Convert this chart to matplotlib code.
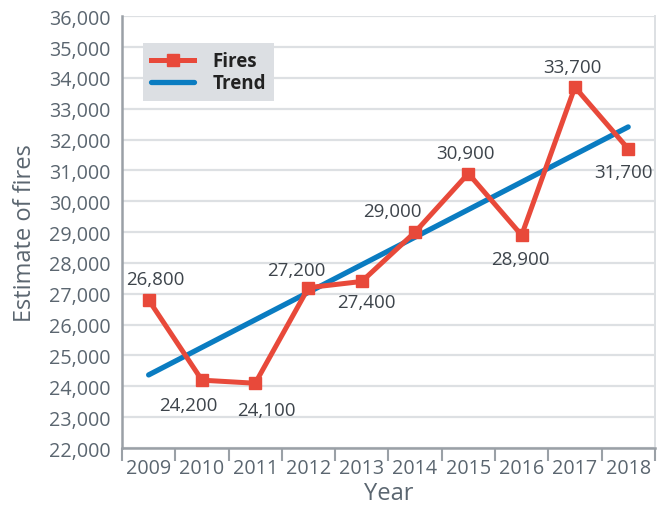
import numpy as np
import matplotlib
matplotlib.use("Agg")
import matplotlib.pyplot as plt
from matplotlib.ticker import FuncFormatter

plt.rcParams['font.family'] = ['Open Sans', 'DejaVu Sans']

# data
years = ["2009", "2010", "2011", "2012", "2013", "2014", "2015", "2016", "2017", "2018"]
fires = [26800, 24200, 24100, 27200, 27400, 29000, 30900, 28900, 33700, 31700]
trend_ends = [24370, 32410]   # trend line at 2009 and 2018

# label offsets (points) for each data label
label_offsets = [(5, 15), (-10, -18), (8, -19), (-9, 13), (3.5, -15),
                 (-16, 15), (-2, 15), (-1, -17), (-1.5, 14.5), (-3.5, -17)]

red = "#e8493a"
blue = "#0a7cc1"
text_col = "#5b6670"
grid_col = "#dde0e3"

fig = plt.figure(figsize=(6.57, 5.06), dpi=100)
ax = fig.add_axes([0.1857, 0.1126, 0.811, 0.8534])

x = np.arange(len(years))
ax.plot([x[0], x[-1]], trend_ends, color=blue, lw=3.8, solid_capstyle="round",
        label="Trend", zorder=3)
ax.plot(x, fires, color=red, lw=3.6, marker="s", markersize=9, label="Fires", zorder=4)

for xi, v, off in zip(x, fires, label_offsets):
    ax.annotate(f"{v:,}", (xi, v), xytext=off, textcoords="offset points",
                ha="center", va="center", fontsize=13.5, color="#3d444b")

ax.set_xlim(-0.5, len(years) - 0.5)
ax.set_ylim(22000, 36000)
ax.set_yticks(np.arange(22000, 36001, 1000))
ax.yaxis.set_major_formatter(FuncFormatter(lambda v, p: f"{int(v):,}"))
ax.set_xticks(x)
ax.set_xticklabels(years)
ax.set_xticks(np.arange(-0.5, len(years)), minor=True)

ax.tick_params(axis="y", length=0, pad=8, labelsize=14.2, labelcolor=text_col)
ax.tick_params(axis="x", which="major", length=0, pad=7, labelsize=14.2, labelcolor=text_col)
ax.tick_params(axis="x", which="minor", length=9, width=1.5, color="#9aa0a6")

ax.grid(axis="y", color=grid_col, lw=1.6, zorder=0)
ax.set_axisbelow(True)
for s in ["left", "bottom"]:
    ax.spines[s].set_color("#9aa0a6")
    ax.spines[s].set_linewidth(1.8)
for s in ["top", "right"]:
    ax.spines[s].set_color(grid_col)
    ax.spines[s].set_linewidth(1.4)
ax.spines["top"].set_visible(False)

ax.set_ylabel("Estimate of fires", fontsize=17, color=text_col, labelpad=9)
ax.set_xlabel("Year", fontsize=17, color=text_col, labelpad=2)

handles, labels = ax.get_legend_handles_labels()
leg = ax.legend(handles[::-1], labels[::-1], loc="upper left",
                bbox_to_anchor=(0.04, 0.937), frameon=True, fancybox=False,
                facecolor="#dcdfe3", edgecolor="none", framealpha=1,
                prop={"weight": "bold", "size": 13.5}, handlelength=2.3,
                borderpad=0.42, labelspacing=0.1, handletextpad=0.95,
                borderaxespad=0)
for t in leg.get_texts():
    t.set_color("#222222")

fig.savefig("out.png", dpi=100)
